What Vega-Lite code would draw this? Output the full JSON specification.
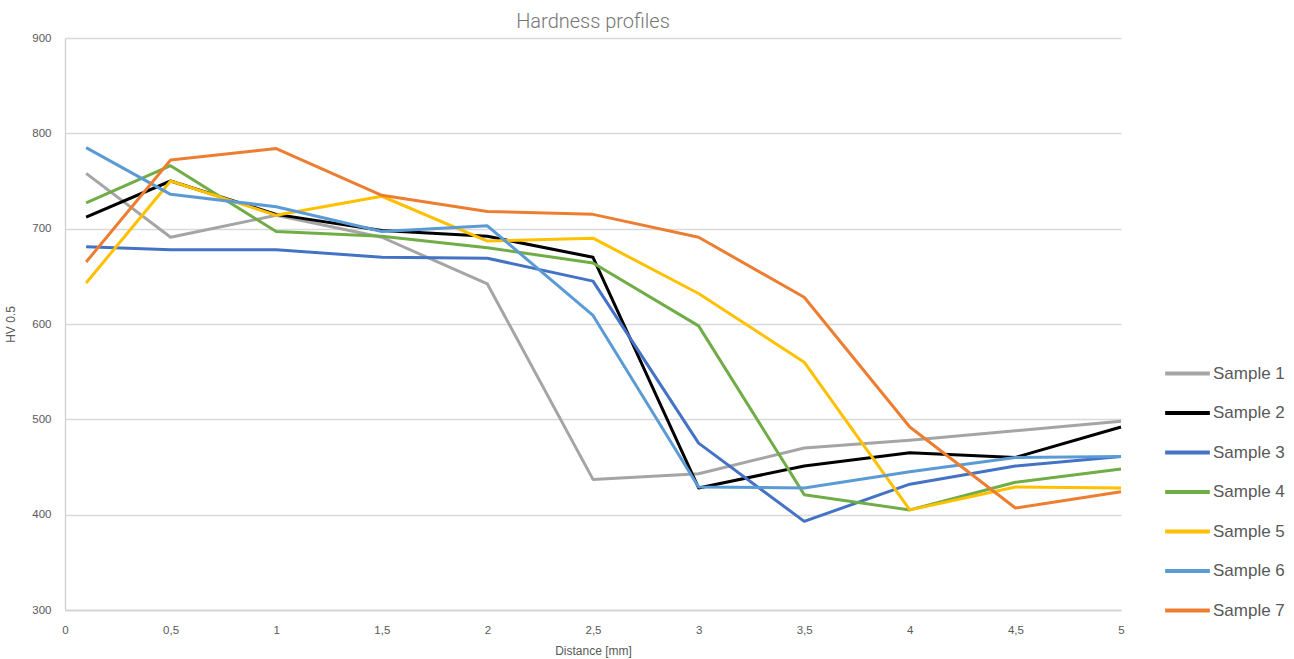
{
  "$schema": "https://vega.github.io/schema/vega-lite/v6.json",
  "width": 1056,
  "height": 572,
  "autosize": {"type": "none"},
  "padding": {"left": 65, "top": 38, "right": 173, "bottom": 49},
  "background": "white",
  "title": {
    "text": "Hardness profiles",
    "anchor": "middle",
    "font": "Roboto",
    "fontWeight": 300,
    "fontSize": 20,
    "color": "#767676",
    "offset": 0
  },
  "config": {
    "view": {"stroke": null},
    "axis": {
      "labelFont": "Liberation Sans",
      "titleFont": "Liberation Sans",
      "labelColor": "#595959",
      "titleColor": "#595959",
      "labelFontSize": 11.5,
      "titleFontSize": 12,
      "titleFontWeight": "normal",
      "labelFlush": false,
      "gridColor": "#d9d9d9",
      "gridWidth": 1.3,
      "domainColor": "#d0d0d0",
      "domainWidth": 1.3,
      "ticks": false
    }
  },
  "data": {
    "values": [
      {"sample": "Sample 1", "d": 0.1, "hv": 758},
      {"sample": "Sample 1", "d": 0.5, "hv": 691},
      {"sample": "Sample 1", "d": 1, "hv": 714},
      {"sample": "Sample 1", "d": 1.5, "hv": 691},
      {"sample": "Sample 1", "d": 2, "hv": 642},
      {"sample": "Sample 1", "d": 2.5, "hv": 437},
      {"sample": "Sample 1", "d": 3, "hv": 443},
      {"sample": "Sample 1", "d": 3.5, "hv": 470},
      {"sample": "Sample 1", "d": 4, "hv": 478},
      {"sample": "Sample 1", "d": 4.5, "hv": 488},
      {"sample": "Sample 1", "d": 5, "hv": 498},
      {"sample": "Sample 2", "d": 0.1, "hv": 712},
      {"sample": "Sample 2", "d": 0.5, "hv": 750},
      {"sample": "Sample 2", "d": 1, "hv": 715},
      {"sample": "Sample 2", "d": 1.5, "hv": 698},
      {"sample": "Sample 2", "d": 2, "hv": 692},
      {"sample": "Sample 2", "d": 2.5, "hv": 670},
      {"sample": "Sample 2", "d": 3, "hv": 428},
      {"sample": "Sample 2", "d": 3.5, "hv": 451},
      {"sample": "Sample 2", "d": 4, "hv": 465},
      {"sample": "Sample 2", "d": 4.5, "hv": 460},
      {"sample": "Sample 2", "d": 5, "hv": 492},
      {"sample": "Sample 3", "d": 0.1, "hv": 681},
      {"sample": "Sample 3", "d": 0.5, "hv": 678},
      {"sample": "Sample 3", "d": 1, "hv": 678},
      {"sample": "Sample 3", "d": 1.5, "hv": 670},
      {"sample": "Sample 3", "d": 2, "hv": 669},
      {"sample": "Sample 3", "d": 2.5, "hv": 645},
      {"sample": "Sample 3", "d": 3, "hv": 475},
      {"sample": "Sample 3", "d": 3.5, "hv": 393},
      {"sample": "Sample 3", "d": 4, "hv": 432},
      {"sample": "Sample 3", "d": 4.5, "hv": 451},
      {"sample": "Sample 3", "d": 5, "hv": 461},
      {"sample": "Sample 4", "d": 0.1, "hv": 727},
      {"sample": "Sample 4", "d": 0.5, "hv": 766},
      {"sample": "Sample 4", "d": 1, "hv": 697},
      {"sample": "Sample 4", "d": 1.5, "hv": 692},
      {"sample": "Sample 4", "d": 2, "hv": 680},
      {"sample": "Sample 4", "d": 2.5, "hv": 664},
      {"sample": "Sample 4", "d": 3, "hv": 598},
      {"sample": "Sample 4", "d": 3.5, "hv": 421},
      {"sample": "Sample 4", "d": 4, "hv": 405},
      {"sample": "Sample 4", "d": 4.5, "hv": 434},
      {"sample": "Sample 4", "d": 5, "hv": 448},
      {"sample": "Sample 5", "d": 0.1, "hv": 643},
      {"sample": "Sample 5", "d": 0.5, "hv": 750},
      {"sample": "Sample 5", "d": 1, "hv": 714},
      {"sample": "Sample 5", "d": 1.5, "hv": 734},
      {"sample": "Sample 5", "d": 2, "hv": 687},
      {"sample": "Sample 5", "d": 2.5, "hv": 690},
      {"sample": "Sample 5", "d": 3, "hv": 632},
      {"sample": "Sample 5", "d": 3.5, "hv": 560},
      {"sample": "Sample 5", "d": 4, "hv": 405},
      {"sample": "Sample 5", "d": 4.5, "hv": 429},
      {"sample": "Sample 5", "d": 5, "hv": 428},
      {"sample": "Sample 6", "d": 0.1, "hv": 785},
      {"sample": "Sample 6", "d": 0.5, "hv": 736},
      {"sample": "Sample 6", "d": 1, "hv": 723},
      {"sample": "Sample 6", "d": 1.5, "hv": 697},
      {"sample": "Sample 6", "d": 2, "hv": 703},
      {"sample": "Sample 6", "d": 2.5, "hv": 609},
      {"sample": "Sample 6", "d": 3, "hv": 429},
      {"sample": "Sample 6", "d": 3.5, "hv": 428},
      {"sample": "Sample 6", "d": 4, "hv": 445},
      {"sample": "Sample 6", "d": 4.5, "hv": 460},
      {"sample": "Sample 6", "d": 5, "hv": 461},
      {"sample": "Sample 7", "d": 0.1, "hv": 665},
      {"sample": "Sample 7", "d": 0.5, "hv": 772},
      {"sample": "Sample 7", "d": 1, "hv": 784},
      {"sample": "Sample 7", "d": 1.5, "hv": 735},
      {"sample": "Sample 7", "d": 2, "hv": 718},
      {"sample": "Sample 7", "d": 2.5, "hv": 715},
      {"sample": "Sample 7", "d": 3, "hv": 691},
      {"sample": "Sample 7", "d": 3.5, "hv": 628},
      {"sample": "Sample 7", "d": 4, "hv": 492},
      {"sample": "Sample 7", "d": 4.5, "hv": 407},
      {"sample": "Sample 7", "d": 5, "hv": 424}
    ]
  },
  "mark": {"type": "line", "strokeWidth": 3, "strokeJoin": "round"},
  "encoding": {
    "x": {
      "field": "d",
      "type": "quantitative",
      "scale": {"domain": [0, 5], "nice": false, "zero": false},
      "axis": {
        "title": "Distance [mm]",
        "values": [0, 0.5, 1, 1.5, 2, 2.5, 3, 3.5, 4, 4.5, 5],
        "labelExpr": "replace(toString(datum.value), '.', ',')",
        "grid": false,
        "labelPadding": 14,
        "titlePadding": 10
      }
    },
    "y": {
      "field": "hv",
      "type": "quantitative",
      "scale": {"domain": [300, 900], "nice": false, "zero": false},
      "axis": {
        "title": "HV 0.5",
        "values": [300, 400, 500, 600, 700, 800, 900],
        "labelPadding": 14,
        "titlePadding": 14
      }
    },
    "color": {
      "field": "sample",
      "type": "nominal",
      "scale": {
        "domain": ["Sample 1", "Sample 2", "Sample 3", "Sample 4", "Sample 5", "Sample 6", "Sample 7"],
        "range": ["#a5a5a5", "#000000", "#4472c4", "#70ad47", "#ffc000", "#5b9bd5", "#ed7d31"]
      },
      "legend": {
        "title": null,
        "orient": "none",
        "legendX": 1098,
        "legendY": 311,
        "symbolType": "stroke",
        "symbolSize": 2000,
        "symbolStrokeWidth": 4,
        "labelFont": "Liberation Sans",
        "labelFontSize": 17,
        "labelColor": "#595959",
        "labelOffset": 1,
        "rowPadding": 6.5
      }
    }
  }
}
